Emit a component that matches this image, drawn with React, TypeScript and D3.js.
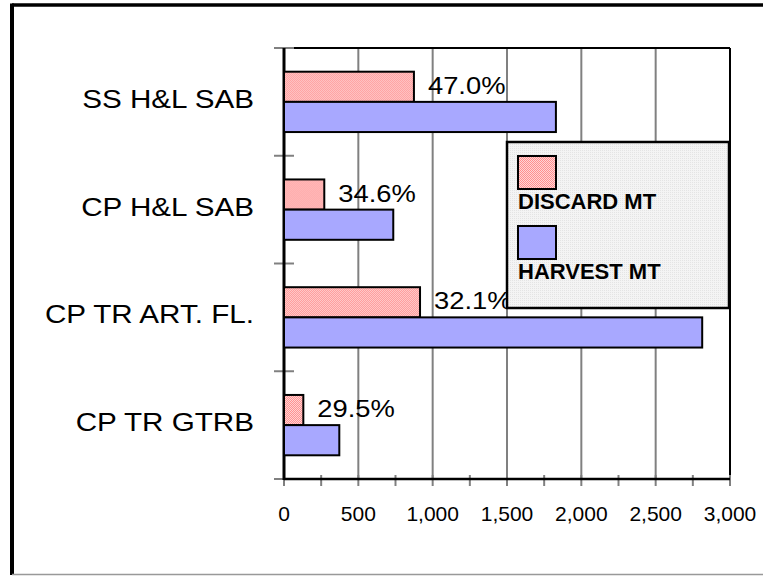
import React, { useEffect, useRef } from 'react';
import * as d3 from 'd3';

// data
const categories = ["SS H&L SAB", "CP H&L SAB", "CP TR ART. FL.", "CP TR GTRB"];
const discardMT = [874, 271, 915, 130];
const harvestMT = [1829, 735, 2813, 372];
const pctLabels = ["47.0%", "34.6%", "32.1%", "29.5%"];
const xTicks = [0, 500, 1000, 1500, 2000, 2500, 3000];
const seriesNames = ["DISCARD MT", "HARVEST MT"];

const FONT = "'Liberation Sans', Arial, Helvetica, sans-serif";

export default function App() {
  const ref = useRef<SVGSVGElement>(null);

  useEffect(() => {
    document.body.style.margin = "0";
    const svg = d3.select(ref.current);
    svg.selectAll("*").remove();

    const W = 763, H = 576;
    const plot = { left: 284, right: 730, top: 48, bottom: 479 };
    const stretch = 1.14; // regular text in the original is a bit wide

    const defs = svg.append("defs");
    // pink checker for discard bars
    const pd = defs.append("pattern").attr("id", "discardPat")
      .attr("width", 2).attr("height", 2).attr("patternUnits", "userSpaceOnUse");
    pd.append("rect").attr("width", 2).attr("height", 2).attr("fill", "#ffd6d6");
    pd.append("rect").attr("width", 1).attr("height", 1).attr("fill", "#ff8f8f");
    pd.append("rect").attr("x", 1).attr("y", 1).attr("width", 1).attr("height", 1).attr("fill", "#ff8f8f");
    // light gray dots for legend
    const pl = defs.append("pattern").attr("id", "legendPat")
      .attr("width", 2).attr("height", 2).attr("patternUnits", "userSpaceOnUse");
    pl.append("rect").attr("width", 2).attr("height", 2).attr("fill", "#f4f4f4");
    pl.append("rect").attr("width", 1).attr("height", 1).attr("fill", "#e4e4e4");

    svg.append("rect").attr("width", W).attr("height", H).attr("fill", "#fff");

    // outer frame
    svg.append("line").attr("x1", 12).attr("x2", W).attr("y1", 5).attr("y2", 5)
      .attr("stroke", "#000").attr("stroke-width", 3.5);
    svg.append("line").attr("x1", 12).attr("x2", 12).attr("y1", 3.5).attr("y2", 575)
      .attr("stroke", "#000").attr("stroke-width", 4);
    svg.append("line").attr("x1", 12).attr("x2", W).attr("y1", 574.5).attr("y2", 574.5)
      .attr("stroke", "#999").attr("stroke-width", 1.5);

    const x = d3.scaleLinear().domain([0, 3000]).range([plot.left, plot.right]);
    const y = d3.scaleBand<string>().domain(categories)
      .range([plot.top, plot.bottom]).paddingInner(0.44).paddingOuter(0.22);
    const ySub = d3.scaleBand<number>().domain([0, 1]).range([0, y.bandwidth()]);

    // gridlines
    svg.append("g").selectAll("line").data(xTicks.slice(1, -1)).enter().append("line")
      .attr("x1", d => x(d)).attr("x2", d => x(d))
      .attr("y1", plot.top).attr("y2", plot.bottom)
      .attr("stroke", "#808080").attr("stroke-width", 2);

    // plot border top / right
    svg.append("line").attr("x1", plot.left).attr("x2", plot.right)
      .attr("y1", plot.top).attr("y2", plot.top).attr("stroke", "#000").attr("stroke-width", 2);
    svg.append("line").attr("x1", plot.right).attr("x2", plot.right)
      .attr("y1", plot.top).attr("y2", plot.bottom).attr("stroke", "#000").attr("stroke-width", 2);

    // x ticks every 250
    const minor = d3.range(0, 3001, 250);
    svg.append("g").selectAll("line").data(minor).enter().append("line")
      .attr("x1", d => x(d)).attr("x2", d => x(d))
      .attr("y1", plot.bottom - 4).attr("y2", plot.bottom + 7)
      .attr("stroke", "#808080").attr("stroke-width", 2);

    // category ticks at band edges
    const edges = d3.range(categories.length + 1).map(i => plot.top + i * y.step());
    svg.append("g").selectAll("line").data(edges).enter().append("line")
      .attr("x1", plot.left - 10).attr("x2", plot.left + 10)
      .attr("y1", d => d).attr("y2", d => d)
      .attr("stroke", "#808080").attr("stroke-width", 2);

    // axes
    svg.append("line").attr("x1", plot.left).attr("x2", plot.right)
      .attr("y1", plot.bottom).attr("y2", plot.bottom).attr("stroke", "#000").attr("stroke-width", 2.5);
    svg.append("line").attr("x1", plot.left).attr("x2", plot.left)
      .attr("y1", plot.top).attr("y2", plot.bottom + 1).attr("stroke", "#000").attr("stroke-width", 3);

    // bars
    const gs = svg.append("g").selectAll("g").data(categories).enter().append("g")
      .attr("transform", d => "translate(0," + y(d) + ")");
    gs.append("rect")
      .attr("x", x(0)).attr("y", ySub(0)!)
      .attr("width", (d, i) => x(discardMT[i]) - x(0)).attr("height", ySub.bandwidth())
      .attr("fill", "url(#discardPat)").attr("stroke", "#000").attr("stroke-width", 2);
    gs.append("rect")
      .attr("x", x(0)).attr("y", ySub(1)!)
      .attr("width", (d, i) => x(harvestMT[i]) - x(0)).attr("height", ySub.bandwidth())
      .attr("fill", "#a8a8ff").attr("stroke", "#000").attr("stroke-width", 2);

    // percent labels
    gs.append("text")
      .attr("transform", (d, i) =>
        "translate(" + (x(discardMT[i]) + 14) + "," + (ySub(0)! + ySub.bandwidth() - 8) + ") scale(" + stretch + ",1)")
      .attr("font-family", FONT).attr("font-size", 24).attr("fill", "#000")
      .text((d, i) => pctLabels[i]);

    // category labels
    svg.append("g").selectAll("text").data(categories).enter().append("text")
      .attr("transform", d => "translate(254," + (y(d)! + y.bandwidth() / 2 + 6) + ") scale(" + stretch + ",1)")
      .attr("text-anchor", "end")
      .attr("font-family", FONT).attr("font-size", 26).attr("fill", "#000")
      .text(d => d);

    // x tick labels
    svg.append("g").selectAll("text").data(xTicks).enter().append("text")
      .attr("x", d => x(d)).attr("y", 521)
      .attr("text-anchor", "middle")
      .attr("font-family", FONT).attr("font-size", 21).attr("fill", "#000")
      .text(d => d3.format(",")(d));

    // legend
    const lg = svg.append("g");
    lg.append("rect").attr("x", 507).attr("y", 142).attr("width", 222).attr("height", 166)
      .attr("fill", "url(#legendPat)").attr("stroke", "#000").attr("stroke-width", 2.5);
    const fills = ["url(#discardPat)", "#a8a8ff"];
    seriesNames.forEach((name, i) => {
      const top = 156 + i * 70;
      lg.append("rect").attr("x", 518).attr("y", top).attr("width", 38).attr("height", 33)
        .attr("fill", fills[i]).attr("stroke", "#000").attr("stroke-width", 2);
      lg.append("text").attr("x", 518).attr("y", top + 53)
        .attr("font-family", FONT).attr("font-size", 22).attr("font-weight", "bold")
        .attr("fill", "#000").text(name);
    });
  }, []);

  return <svg ref={ref} width={763} height={576} style={{ display: "block" }} />;
}
